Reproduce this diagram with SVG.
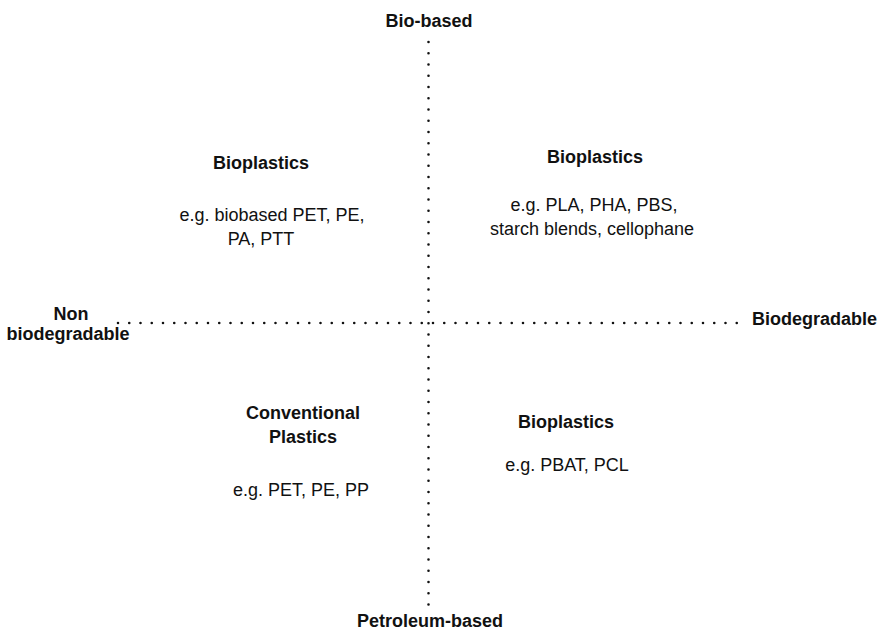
<svg xmlns="http://www.w3.org/2000/svg" width="884" height="635" viewBox="0 0 884 635">
<style>
text{font-family:"Liberation Sans",Arial,sans-serif;font-size:18px;fill:#111}
.b{font-weight:bold}
.m{text-anchor:middle}
.dot{stroke:#111;stroke-width:2.6;stroke-linecap:round;stroke-dasharray:0 11.25;fill:none}
</style>
<rect width="884" height="635" fill="#fff"/>
<g id="connectors">
<line class="dot" x1="428.5" y1="42" x2="428.5" y2="605"/>
<line class="dot" x1="118" y1="323" x2="422.5" y2="323"/>
<line class="dot" x1="433" y1="323" x2="738" y2="323"/>
</g>
<g id="axis-top"><text class="b m" x="429" y="27">Bio-based</text></g>
<g id="axis-bottom"><text class="b m" x="430" y="627">Petroleum-based</text></g>
<g id="axis-left"><text class="b m" x="71" y="320">Non</text><text class="b m" x="68" y="340">biodegradable</text></g>
<g id="axis-right"><text class="b" x="752" y="325">Biodegradable</text></g>
<g id="q-top-left">
<text class="b m" x="261" y="169">Bioplastics</text>
<text class="m" x="272" y="221">e.g. biobased PET, PE,</text>
<text class="m" x="261" y="245">PA, PTT</text>
</g>
<g id="q-top-right">
<text class="b m" x="595" y="163">Bioplastics</text>
<text class="m" x="594" y="211">e.g. PLA, PHA, PBS,</text>
<text class="m" x="592" y="235">starch blends, cellophane</text>
</g>
<g id="q-bottom-left">
<text class="b m" x="303" y="419">Conventional</text>
<text class="b m" x="303" y="443">Plastics</text>
<text class="m" x="301" y="496">e.g. PET, PE, PP</text>
</g>
<g id="q-bottom-right">
<text class="b m" x="566" y="428">Bioplastics</text>
<text class="m" x="567" y="471">e.g. PBAT, PCL</text>
</g>
</svg>
